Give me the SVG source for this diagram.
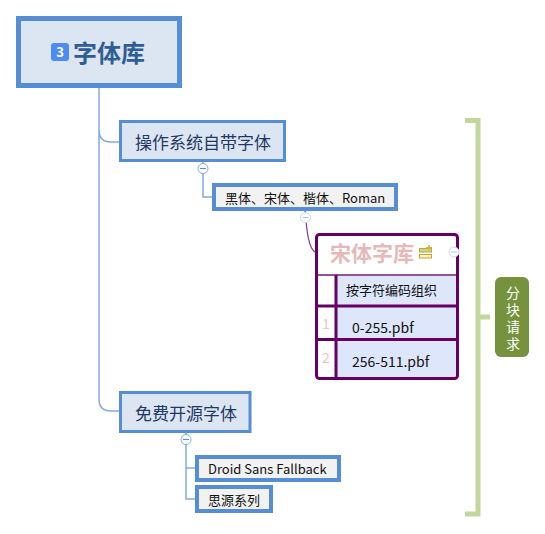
<svg xmlns="http://www.w3.org/2000/svg" width="545" height="534" viewBox="0 0 545 534">
<style>
text{font-family:"Noto Sans CJK SC","Noto Sans",sans-serif}
.blue{fill:#dce6f2;stroke:#558ed5}
.grey{fill:#f2f2f2;stroke:#558ed5;stroke-width:4}
.link{fill:none;stroke:#82aae0;stroke-width:1.5}
.toggle{fill:#fff;stroke:#82aae0;stroke-width:1}
.toggle2{fill:#fff;stroke:#c6d9f1;stroke-width:1}
.minus{stroke:#558ed5;stroke-width:1}
.minus2{stroke:#a9c4ea;stroke-width:1}
.t1{font-size:17px;fill:#1f3864}
.t2{font-size:13px;fill:#111}
.t3{font-size:14px;fill:#111}
.cell{fill:#dde6fb}
.tb{stroke:#660066;stroke-width:3;fill:none}
.idx{font-size:14px;fill:#ebc4c4}
</style>
<rect width="545" height="534" fill="#fff"/>
<g id="connectors">
<path class="link" d="M99 88V399Q99 411 111 411H120M99 130Q99 142 111 142H120"/>
<path class="link" d="M203 162V197H213"/>
<path d="M305 210C307 235 309 248 315 252" fill="none" stroke="#7f3f8f" stroke-width="1.2"/>
<path class="link" d="M186 432V499H196M186 468H196"/>
<path d="M465 120.500H478V514H465M478 317H490" fill="none" stroke="#c3d69b" stroke-width="5"/>
</g>
<g id="root">
<rect class="blue" x="18.500" y="18.500" width="161" height="67" stroke-width="5"/>
<rect x="51" y="43" width="18" height="18" rx="3" fill="#4d8cf5"/>
<text x="60" y="57" text-anchor="middle" font-size="13" font-weight="700" fill="#fff">3</text>
<text x="73" y="62" font-size="24" font-weight="700" fill="#2f5d94">字体库</text>
</g>
<g id="node-system">
<rect class="blue" x="120.500" y="121.500" width="164" height="39" stroke-width="3"/>
<text class="t1" x="135" y="149">操作系统自带字体</text>
<circle class="toggle" cx="203" cy="168.500" r="5"/><path class="minus" d="M200 168.500H206"/>
</g>
<g id="node-fonts">
<rect class="grey" x="214" y="185" width="182" height="24"/>
<text class="t2" x="225" y="203">黑体、宋体、楷体、Roman</text>
<circle class="toggle2" cx="305.500" cy="217.500" r="5"/><path class="minus2" d="M302.500 217.500H308.500"/>
</g>
<g id="node-song">
<rect x="316.500" y="234.500" width="141" height="144" rx="3" fill="#fff"/>
<rect class="cell" x="336" y="276" width="121" height="102"/>
<path d="M317 275H458" stroke="#955295" stroke-width="2"/>
<path class="tb" d="M336 275V379M317 306H458M317 339.500H458"/>
<rect class="tb" x="316.500" y="234.500" width="141" height="144" rx="3"/>
<text x="330" y="261" font-size="21" font-weight="700" fill="#e6b9b8">宋体字库</text>
<g>
<rect x="419.500" y="248.500" width="12" height="3.500" fill="#c3d69b" stroke="#c9a227"/>
<rect x="419.500" y="254.500" width="12" height="3.500" fill="#fff2cc" stroke="#c9a227"/>
<path d="M429 245V250.500M426 247.800H432" stroke="#d6b23c" stroke-width="1.500"/>
</g>
<circle class="toggle2" cx="454" cy="252" r="5"/><path class="minus2" d="M451 252H457"/>
<text class="t2" x="346" y="295">按字符编码组织</text>
<text class="idx" x="326" y="329" text-anchor="middle">1</text>
<text class="t3" x="352" y="333">0-255.pbf</text>
<text class="idx" x="326" y="363" text-anchor="middle">2</text>
<text class="t3" x="352" y="367">256-511.pbf</text>
</g>
<g id="node-free">
<rect class="blue" x="120.500" y="392.500" width="129.500" height="39" stroke-width="3"/>
<text class="t1" x="135" y="420">免费开源字体</text>
<circle class="toggle" cx="186" cy="439.500" r="5"/><path class="minus" d="M183 439.500H189"/>
</g>
<g id="node-droid">
<rect class="grey" x="197" y="457" width="142" height="23"/>
<text class="t2" x="208" y="474">Droid Sans Fallback</text>
</g>
<g id="node-siyuan">
<rect class="grey" x="197" y="487" width="74" height="24"/>
<text class="t2" x="208" y="505">思源系列</text>
</g>
<g id="node-summary">
<rect x="495" y="277" width="34" height="80" rx="6" fill="#76923c"/>
<text x="513" y="286" font-size="14" fill="#fff" style="writing-mode:vertical-rl;letter-spacing:3px" text-anchor="start">分块请求</text>
</g>
</svg>
